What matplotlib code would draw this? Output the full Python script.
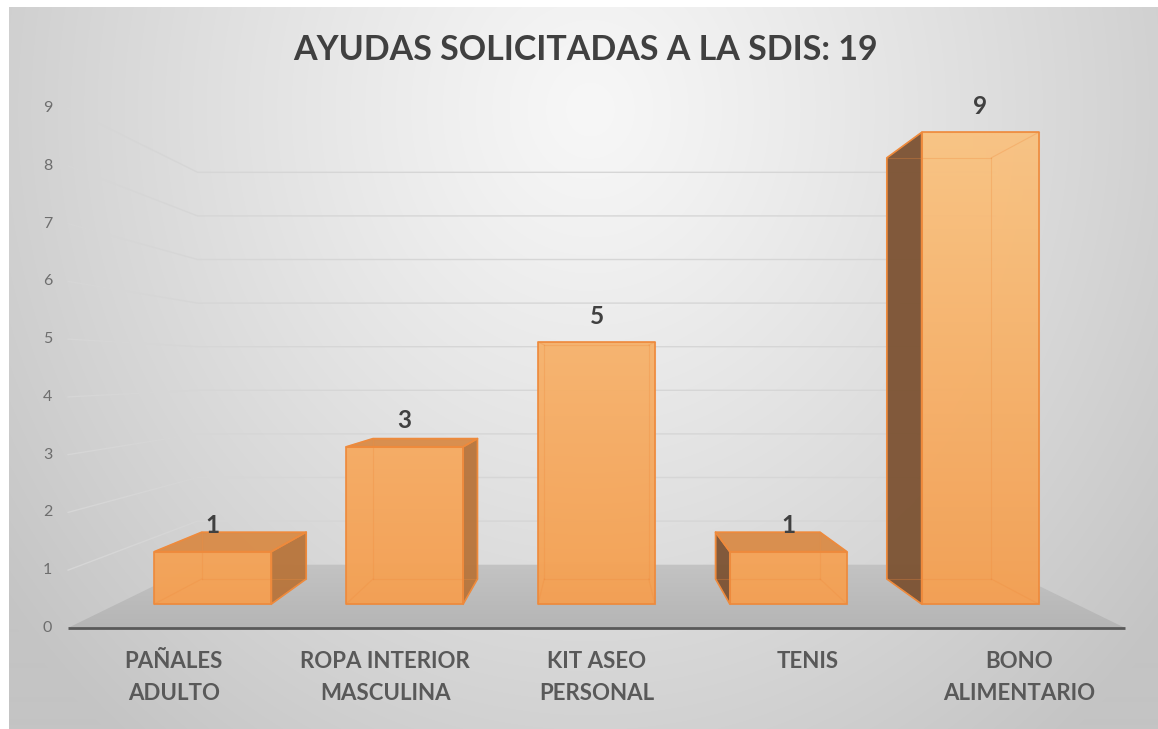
import numpy as np
import matplotlib
matplotlib.use("Agg")
import matplotlib.pyplot as plt
from matplotlib.patches import Polygon
from matplotlib.colors import to_rgb

# ---------------- data ----------------
categories = ["PAÑALES\nADULTO", "ROPA INTERIOR\nMASCULINA", "KIT ASEO\nPERSONAL", "TENIS", "BONO\nALIMENTARIO"]
values = [1, 3, 5, 1, 9]
y_ticks = list(range(0, 10))
title = "AYUDAS SOLICITADAS A LA SDIS: 19"

# ---------------- layout ----------------
W, H = 1158, 729
PX_LEFT, PX_UNIT_X = 117.0, 191.8      # pixel of category-axis origin, px per category (front plane of bars)
PY_BASE, PY_UNIT = 604.0, 52.4          # pixel of value 0, px per unit (front plane of bars)
VP_Y_PX = 370.0                         # vanishing point (pixel row)
S_FRONT, S_BAR_F, S_BAR_B, S_BACK = 1.102, 1.0, 0.893, 0.832
BAR_W = 0.61
FONT = ["Lato", "DejaVu Sans"]

xc = len(categories) / 2.0
yc = (PY_BASE - VP_Y_PX) / PY_UNIT
XLIM = (-PX_LEFT / PX_UNIT_X, (W - PX_LEFT) / PX_UNIT_X)
YLIM = ((PY_BASE - H) / PY_UNIT, PY_BASE / PY_UNIT)


def proj(x, v, s):
    return (xc + (x - xc) * s, yc + (v - yc) * s)


def px2data(px, py):
    return (px - PX_LEFT) / PX_UNIT_X, (PY_BASE - py) / PY_UNIT


fig = plt.figure(figsize=(W / 100, H / 100), dpi=100, facecolor="white")
ax = fig.add_axes([0, 0, 1, 1])
ax.set_axis_off()

# ---------------- background gradient ----------------
bx0, by0 = 9, 8
yy, xx = np.mgrid[by0:H, bx0:W]
r = np.sqrt(((xx - 590) / 650.0) ** 2 + ((yy - 110) / 720.0) ** 2)
g = np.clip(247 - 44 * r ** 1.15, 196, 250) / 255.0
bg = np.dstack([g, g, g])
(ex0, ey1) = px2data(bx0, by0)
(ex1, ey0) = px2data(W, H)
ax.imshow(bg, extent=[ex0, ex1, ey0, ey1], origin="upper", aspect="auto", zorder=0, interpolation="bilinear")


def grad_fill(poly, c_top, c_bot, zorder, alpha=1.0):
    poly = np.asarray(poly)
    xmin, xmax = poly[:, 0].min(), poly[:, 0].max()
    ymin, ymax = poly[:, 1].min(), poly[:, 1].max()
    t = np.linspace(0, 1, 64)[:, None]
    ct, cb = np.array(to_rgb(c_top)), np.array(to_rgb(c_bot))
    arr = cb[None, :] * (1 - t) + ct[None, :] * t
    arr = np.repeat(arr[:, None, :], 2, axis=1)
    im = ax.imshow(arr, extent=[xmin, xmax, ymin, ymax], origin="lower", aspect="auto",
                   zorder=zorder, alpha=alpha, interpolation="bilinear")
    patch = Polygon(poly, closed=True, facecolor="none", edgecolor="none", transform=ax.transData)
    ax.add_patch(patch)
    im.set_clip_path(patch)


n = len(categories)
# ---------------- gridlines (left wall + back wall) ----------------
for v in y_ticks[1:]:
    p_front = proj(0, v, S_FRONT)
    p_bl = proj(0, v, S_BACK)
    p_br = proj(n, v, S_BACK)
    ax.plot([p_front[0], p_bl[0], p_br[0]], [p_front[1], p_bl[1], p_br[1]],
            color="#d6d6d6", lw=1.0, zorder=1, solid_joinstyle="round")

# ---------------- floor ----------------
floor = [proj(0, 0, S_FRONT), proj(n, 0, S_FRONT), proj(n, 0, S_BACK), proj(0, 0, S_BACK)]
grad_fill(floor, "#c3c3c3", "#b5b5b5", zorder=2)
ax.plot([floor[0][0], floor[1][0]], [floor[0][1], floor[1][1]], color="#595959", lw=2.0, zorder=3,
        solid_capstyle="butt")

# ---------------- bars ----------------
EDGE = "#ee8a3c"
c_bot, c_top_full = np.array(to_rgb("#f4a053")), np.array(to_rgb("#f9c382"))
ymax_v = max(values)
for i, v in enumerate(values):
    x0, x1 = i + 0.5 - BAR_W / 2, i + 0.5 + BAR_W / 2
    FLB, FRB, FRT, FLT = proj(x0, 0, S_BAR_F), proj(x1, 0, S_BAR_F), proj(x1, v, S_BAR_F), proj(x0, v, S_BAR_F)
    BLB, BRB, BRT, BLT = proj(x0, 0, S_BAR_B), proj(x1, 0, S_BAR_B), proj(x1, v, S_BAR_B), proj(x0, v, S_BAR_B)
    z = 5
    faces = []
    if x0 > xc:
        faces.append(([FLB, FLT, BLT, BLB], "#7c5232"))
    if x1 < xc:
        faces.append(([FRB, FRT, BRT, BRB], "#b8743a"))
    if v < yc:
        faces.append(([FLT, FRT, BRT, BLT], "#d98b47"))
    for poly, col in faces:
        ax.add_patch(Polygon(poly, closed=True, facecolor=col, edgecolor="none", alpha=0.95, zorder=z))
    # front face gradient
    ct = c_bot + (c_top_full - c_bot) * (v / ymax_v)
    grad_fill([FLB, FRB, FRT, FLT], ct, c_bot, zorder=z + 0.1, alpha=0.97)
    # all edges faint (hidden edges seen through)
    edges = [(FLB, FRB), (FRB, FRT), (FRT, FLT), (FLT, FLB),
             (BLB, BRB), (BRB, BRT), (BRT, BLT), (BLT, BLB),
             (FLB, BLB), (FRB, BRB), (FRT, BRT), (FLT, BLT)]
    for a, b in edges:
        ax.plot([a[0], b[0]], [a[1], b[1]], color="#f08c3e", lw=0.8, alpha=0.3, zorder=z + 0.2)
    # visible outlines
    for poly, col in faces + [([FLB, FRB, FRT, FLT], None)]:
        ax.add_patch(Polygon(poly, closed=True, facecolor="none", edgecolor=EDGE, lw=1.2, zorder=z + 0.3,
                             joinstyle="round"))
    # data label
    ax.annotate(str(v), xy=proj(i + 0.5, v, S_BAR_F), xytext=(0, 26), textcoords="offset pixels",
                ha="center", va="center", fontsize=17.5, fontweight="bold", color="#404040",
                family=FONT, zorder=10)

# ---------------- axis labels ----------------
for v in y_ticks:
    ax.annotate(str(v), xy=proj(0, v, S_FRONT), xytext=(-16, 0), textcoords="offset pixels",
                ha="right", va="center", fontsize=11.5, color="#6e6e6e", family=FONT, zorder=10)

for i, lab in enumerate(categories):
    ax.annotate(lab, xy=proj(i + 0.5, 0, S_FRONT), xytext=(0, -23), textcoords="offset pixels",
                ha="center", va="top", fontsize=16, fontweight="bold", color="#595959",
                family=FONT, linespacing=1.68, zorder=10)

fig.text(586 / W, 1 - 50 / H, title, ha="center", va="center", fontsize=24.5, fontweight="bold",
         color="#404040", family=FONT)

ax.set_xlim(*XLIM)
ax.set_ylim(*YLIM)
fig.savefig("out.png", dpi=100, facecolor="white")
